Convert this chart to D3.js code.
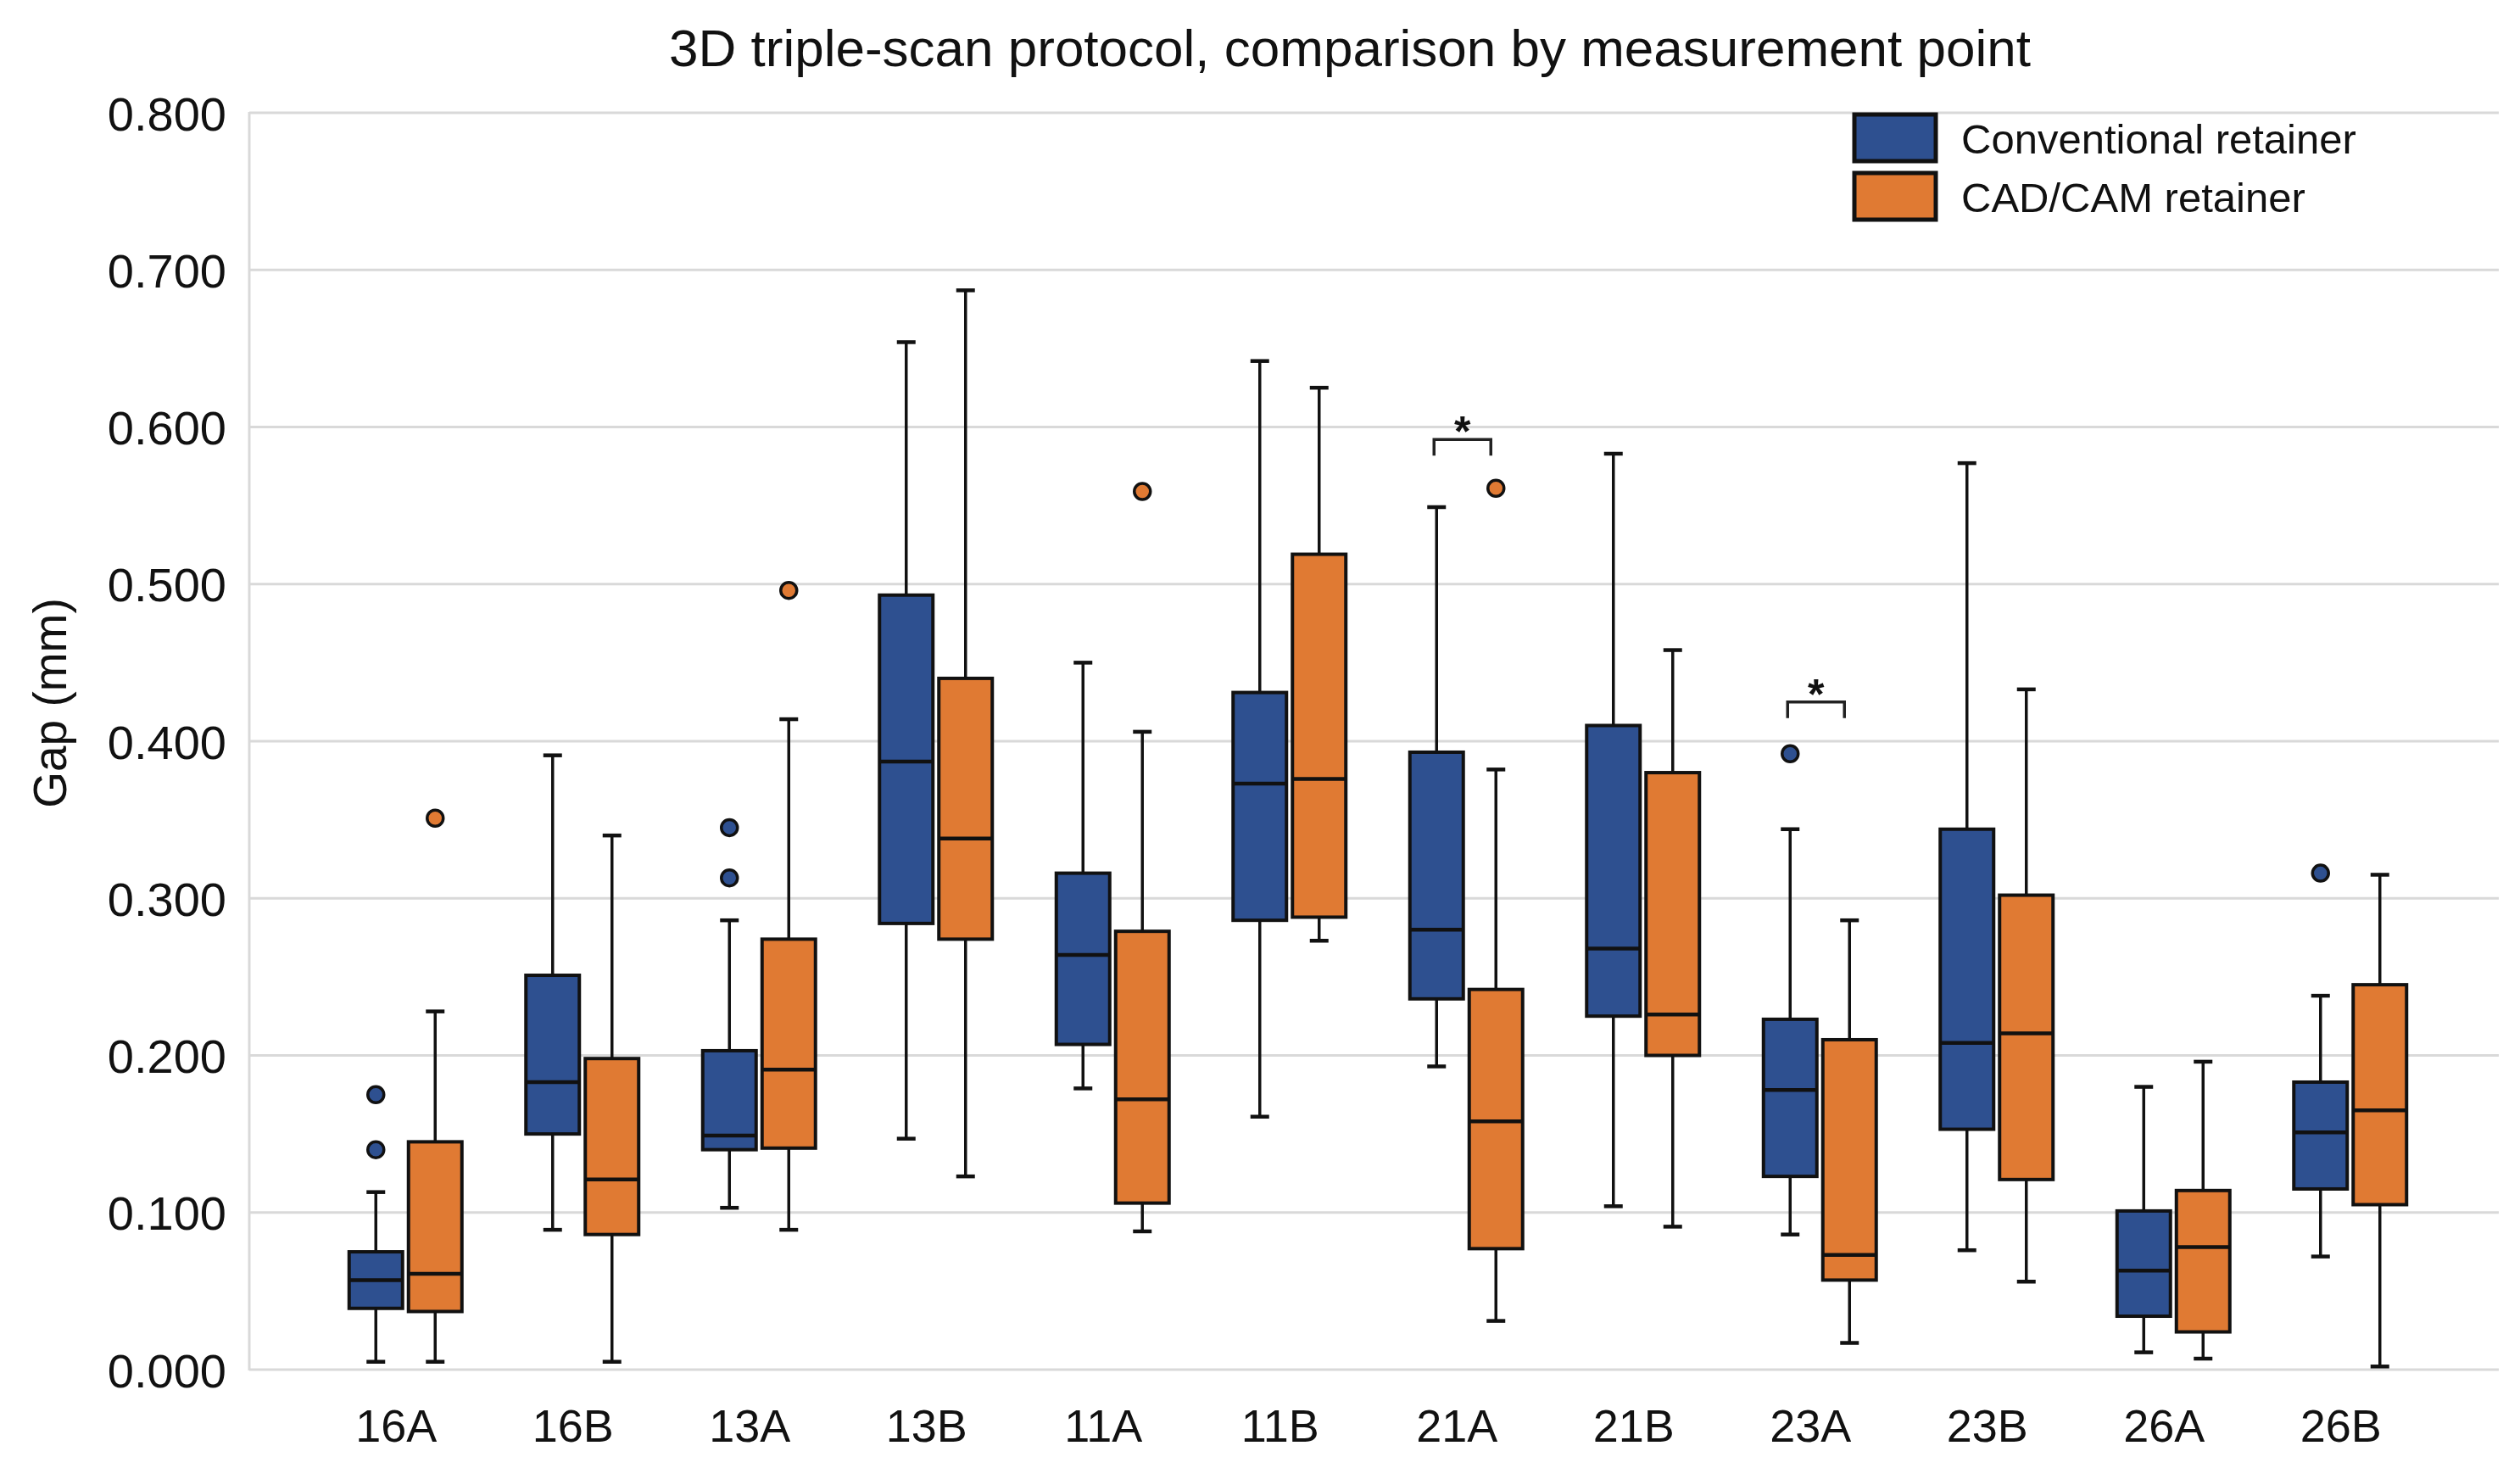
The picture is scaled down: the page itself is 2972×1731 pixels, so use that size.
<!DOCTYPE html>
<html><head><meta charset="utf-8">
<script src="https://cdn.jsdelivr.net/npm/d3@7/dist/d3.min.js"></script>
<style>body{margin:0;background:#fff}svg{display:block}text{font-family:"Liberation Sans",Arial,sans-serif}</style>
</head><body><svg id="c" width="2972" height="1731"></svg>
<script>
const categories = ["16A","16B","13A","13B","11A","11B","21A","21B","23A","23B","26A","26B"];
const seriesNames = ["Conventional retainer","CAD/CAM retainer"];
const seriesColors = ["#2E5090","#E07A33"];
// [whiskerLow, Q1, median, Q3, whiskerHigh] per category
const conventional = [
  [0.005,0.039,0.057,0.075,0.113],
  [0.089,0.150,0.183,0.251,0.391],
  [0.103,0.140,0.149,0.203,0.286],
  [0.147,0.284,0.387,0.493,0.654],
  [0.179,0.207,0.264,0.316,0.450],
  [0.161,0.286,0.373,0.431,0.642],
  [0.193,0.236,0.280,0.393,0.549],
  [0.104,0.225,0.268,0.410,0.583],
  [0.086,0.123,0.178,0.223,0.344],
  [0.076,0.153,0.208,0.344,0.577],
  [0.011,0.034,0.063,0.101,0.180],
  [0.072,0.115,0.151,0.183,0.238]
];
const cadcam = [
  [0.005,0.037,0.061,0.145,0.228],
  [0.005,0.086,0.121,0.198,0.340],
  [0.089,0.141,0.191,0.274,0.414],
  [0.123,0.274,0.338,0.440,0.687],
  [0.088,0.106,0.172,0.279,0.406],
  [0.273,0.288,0.376,0.519,0.625],
  [0.031,0.077,0.158,0.242,0.382],
  [0.091,0.200,0.226,0.380,0.458],
  [0.017,0.057,0.073,0.210,0.286],
  [0.056,0.121,0.214,0.302,0.433],
  [0.007,0.024,0.078,0.114,0.196],
  [0.002,0.105,0.165,0.245,0.315]
];
const conventionalOutliers = [[0.140,0.175],[],[0.313,0.345],[],[],[],[],[],[0.392],[],[],[0.316]];
const cadcamOutliers = [[0.351],[],[0.496],[],[0.559],[],[0.561],[],[],[],[],[]];
const yTicks = [0,0.1,0.2,0.3,0.4,0.5,0.6,0.7,0.8];
const significance = [{cat:"21A", y:0.592, label:"*"},{cat:"23A", y:0.425, label:"*"}];
const title = "3D triple-scan protocol, comparison by measurement point";
const yLabel = "Gap (mm)";

const svg = d3.select("#c");
const L = 294, R = 2947, T = 133, B = 1615;
const y = d3.scaleLinear().domain([0,0.8]).range([B,T]);
const x = d3.scaleBand().domain(categories).range([374,2876]);
const bw = 63, off = 35;
const centerOf = (c,s) => x(c) + x.bandwidth()/2 + (s===0 ? -off : off);

// grid
svg.append("g").selectAll("line").data(yTicks).join("line")
  .attr("x1",L).attr("x2",R).attr("y1",d=>y(d)).attr("y2",d=>y(d))
  .attr("stroke","#d9d9d9").attr("stroke-width",3);
svg.append("line").attr("x1",L).attr("x2",L).attr("y1",y(0.8)-1).attr("y2",y(0)+1)
  .attr("stroke","#d9d9d9").attr("stroke-width",3);

// y axis labels
const yAxis = d3.axisLeft(y).tickValues(yTicks).tickFormat(d3.format(".3f")).tickSize(0).tickPadding(0);
const ga = svg.append("g").attr("transform",`translate(267,0)`).call(yAxis);
ga.select(".domain").remove();
ga.selectAll("text").attr("font-size",56).attr("fill","#111").attr("dy","0.36em")
  .style("font-family",'"Liberation Sans",Arial,sans-serif');

// x axis labels
const xAxis = d3.axisBottom(x).tickSize(0).tickPadding(0);
const gx = svg.append("g").attr("transform",`translate(-11,1700)`).call(xAxis);
gx.select(".domain").remove();
gx.selectAll("text").attr("font-size",54).attr("fill","#111").attr("dy",0)
  .style("font-family",'"Liberation Sans",Arial,sans-serif');

// title
svg.append("text").attr("x",1592).attr("y",78).attr("text-anchor","middle")
  .attr("font-size",62).attr("fill","#111").text(title);
// y label
svg.append("text").attr("transform","translate(78,829) rotate(-90)").attr("text-anchor","middle")
  .attr("font-size",55).attr("fill","#111").text(yLabel);

// boxes
const series = [conventional, cadcam];
const outl = [conventionalOutliers, cadcamOutliers];
series.forEach((data,s)=>{
  const g = svg.append("g");
  categories.forEach((c,i)=>{
    const [lo,q1,md,q3,hi] = data[i];
    const cx = centerOf(c,s);
    const gg = g.append("g");
    gg.append("line").attr("x1",cx).attr("x2",cx).attr("y1",y(hi)).attr("y2",y(q3)).attr("stroke","#111").attr("stroke-width",3.5);
    gg.append("line").attr("x1",cx).attr("x2",cx).attr("y1",y(q1)).attr("y2",y(lo)).attr("stroke","#111").attr("stroke-width",3.5);
    gg.append("line").attr("x1",cx-11).attr("x2",cx+11).attr("y1",y(hi)).attr("y2",y(hi)).attr("stroke","#111").attr("stroke-width",4.5);
    gg.append("line").attr("x1",cx-11).attr("x2",cx+11).attr("y1",y(lo)).attr("y2",y(lo)).attr("stroke","#111").attr("stroke-width",4.5);
    gg.append("rect").attr("x",cx-bw/2).attr("width",bw).attr("y",y(q3)).attr("height",y(q1)-y(q3))
      .attr("fill",seriesColors[s]).attr("stroke","#111").attr("stroke-width",4);
    gg.append("line").attr("x1",cx-bw/2).attr("x2",cx+bw/2).attr("y1",y(md)).attr("y2",y(md)).attr("stroke","#111").attr("stroke-width",4.5);
    gg.selectAll("circle").data(outl[s][i]).join("circle")
      .attr("cx",cx).attr("cy",d=>y(d)).attr("r",9.5)
      .attr("fill",seriesColors[s]).attr("stroke","#111").attr("stroke-width",3.5);
  });
});

// significance brackets
significance.forEach(sg=>{
  const x1 = centerOf(sg.cat,0)-3, x2 = centerOf(sg.cat,1)-6;
  const yy = y(sg.y);
  svg.append("path").attr("d",`M${x1},${yy+19}V${yy}H${x2}V${yy+19}`)
    .attr("fill","none").attr("stroke","#222").attr("stroke-width",3.5);
  svg.append("text").attr("x",(x1+x2)/2).attr("y",yy+8).attr("text-anchor","middle")
    .attr("font-size",50).attr("font-weight","bold").attr("fill","#111").text(sg.label);
});

// legend
const lg = svg.append("g").attr("transform","translate(2187,135)");
seriesNames.forEach((n,i)=>{
  lg.append("rect").attr("x",0).attr("y",i*69).attr("width",96).attr("height",55)
    .attr("fill",seriesColors[i]).attr("stroke","#111").attr("stroke-width",5);
  lg.append("text").attr("x",126).attr("y",i*69+46).attr("font-size",49).attr("fill","#111").text(n);
});
</script></body></html>
